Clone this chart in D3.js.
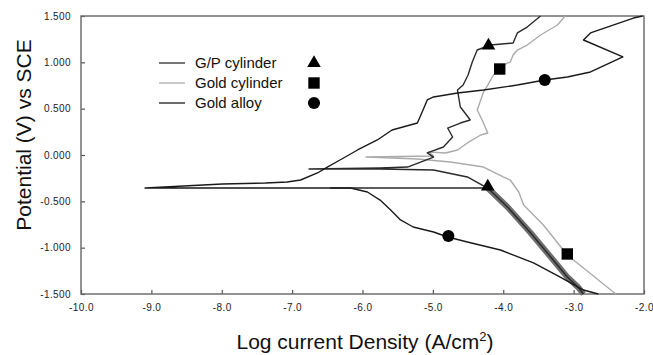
<!DOCTYPE html>
<html>
<head>
<meta charset="utf-8">
<script src="https://cdn.jsdelivr.net/npm/d3@7"></script>
<style>
  html, body { margin: 0; padding: 0; background: #fff; }
  svg { display: block; font-family: Arial, 'Liberation Sans', sans-serif; }
</style>
</head>
<body>
<div id="chart"></div>
<script>
// axis ticks
var xTicks = [-10, -9, -8, -7, -6, -5, -4, -3, -2];
var yTicks = [-1.5, -1, -0.5, 0, 0.5, 1, 1.5];

var seriesNames = ['G/P cylinder', 'Gold cylinder', 'Gold alloy'];

// G/P cylinder, cathodic branch (log i, E)
var gpCathodicCurrent   = [-6.46, -4.22, -3.94, -3.61, -3.29, -3.09, -2.94, -2.86];
var gpCathodicPotential = [-0.356, -0.356, -0.561, -0.842, -1.133, -1.317, -1.424, -1.5];

// G/P cylinder, anodic branch
var gpAnodicCurrent   = [-4.22, -4.28, -4.51, -4.99, -5.75, -6.76, -5.75, -5.36, -4.99, -5.08, -4.85, -4.72, -4.79, -4.61,
                         -4.47, -4.50, -4.61, -4.65, -4.57, -4.50, -4.44, -4.37, -4.18, -3.86, -3.80, -3.66, -3.47];
var gpAnodicPotential = [-0.356, -0.334, -0.237, -0.162, -0.151, -0.151, -0.140, -0.130, -0.022, 0.022, 0.086, 0.194, 0.291, 0.345,
                         0.378, 0.410, 0.518, 0.701, 0.755, 0.863, 1.004, 1.133, 1.187, 1.209, 1.317, 1.381, 1.5];

// Gold cylinder
var goldCylCurrent   = [-2.40, -3.09, -3.43, -3.71, -3.78, -3.90, -4.00, -4.28, -4.75, -5.22, -5.95, -4.99, -5.06, -4.82, -4.65, -4.51,
                        -4.32, -4.22, -4.30, -4.37, -4.32, -4.28, -4.22, -4.14, -4.00, -3.90, -3.86, -3.80, -3.66, -3.47, -3.23, -3.12];
var goldCylPotential = [-1.5, -1.079, -0.755, -0.539, -0.399, -0.270, -0.237, -0.130, -0.076, -0.043, -0.022, -0.011, 0.032, 0.022, 0.054, 0.130,
                        0.216, 0.237, 0.378, 0.486, 0.594, 0.680, 0.755, 0.863, 0.971, 1.004, 1.079, 1.133, 1.187, 1.295, 1.403, 1.5];

// Gold alloy
var alloyCurrent   = [-2.65, -2.86, -3.19, -3.57, -4.04, -4.51, -4.79, -4.99, -5.28, -5.46, -5.60, -5.75, -5.93, -6.17, -9.09, -7.99,
                      -7.38, -7.07, -6.88, -6.64, -6.50, -6.32, -6.07, -5.79, -5.58, -5.22, -5.14, -5.08, -4.99, -4.65, -4.28, -3.80,
                      -3.41, -3.09, -2.76, -2.30, -2.86, -2.76, -2.15, -2.02];
var alloyPotential = [-1.5, -1.457, -1.317, -1.165, -1.025, -0.939, -0.885, -0.831, -0.777, -0.701, -0.594, -0.486, -0.399, -0.356, -0.356, -0.313,
                      -0.302, -0.291, -0.270, -0.194, -0.130, -0.054, 0.054, 0.162, 0.270, 0.345, 0.486, 0.594, 0.626, 0.669, 0.701, 0.755,
                      0.809, 0.842, 0.896, 1.058, 1.241, 1.317, 1.478, 1.5];

// identifying markers placed on the curves
var markerSeries    = [0, 0, 1, 1, 2, 2];
var markerCurrent   = [-4.21, -4.22, -4.05, -3.09, -3.41, -4.78];
var markerPotential = [1.18, -0.34, 0.928, -1.068, 0.809, -0.874];

;(function (window, document, undefined) {

  'use strict';

  var width = 653, height = 355;
  var margin = { top: 16, right: 9, bottom: 61, left: 81 };

  var colors = ['#2a2a2a', '#ababab', '#1a1a1a'];
  var symbols = [d3.symbolTriangle, d3.symbolSquare, d3.symbolCircle];
  var symbolSizes = [80, 130, 115];

  var svg = d3.select('#chart').append('svg')
    .attr('width', width)
    .attr('height', height);

  var x = d3.scaleLinear().domain([-10, -2]).range([margin.left, width - margin.right]);
  var y = d3.scaleLinear().domain([-1.5, 1.5]).range([height - margin.bottom, margin.top]);

  var line = d3.line()
    .x(function (d) { return x(d[0]); })
    .y(function (d) { return y(d[1]); });

  // axes, ticks pointing inward
  var xAxis = svg.append('g')
    .attr('transform', 'translate(0,' + y(-1.5) + ')')
    .call(d3.axisBottom(x)
      .tickValues(xTicks)
      .tickSizeInner(-4)
      .tickSizeOuter(0)
      .tickPadding(10)
      .tickFormat(function (d) { return d.toFixed(1); }));

  var yAxis = svg.append('g')
    .attr('transform', 'translate(' + x(-10) + ',0)')
    .call(d3.axisLeft(y)
      .tickValues(yTicks)
      .tickSizeInner(-4)
      .tickSizeOuter(0)
      .tickPadding(10)
      .tickFormat(function (d) { return d.toFixed(3); }));

  [xAxis, yAxis].forEach(function (g) {
    g.select('.domain').remove();
    g.selectAll('.tick line').attr('stroke', '#555').attr('stroke-width', 1.2);
    g.selectAll('.tick text')
      .attr('fill', '#222')
      .style('font-size', '10px')
      .style('letter-spacing', '0.4px');
  });

  // frame
  svg.append('rect')
    .attr('x', x(-10))
    .attr('y', y(1.5))
    .attr('width', x(-2) - x(-10))
    .attr('height', y(-1.5) - y(1.5))
    .attr('fill', 'none')
    .attr('stroke', '#666')
    .attr('stroke-width', 1.4);

  var gpCathodic = d3.zip(gpCathodicCurrent, gpCathodicPotential);
  var gpAnodic = d3.zip(gpAnodicCurrent, gpAnodicPotential);
  var goldCyl = d3.zip(goldCylCurrent, goldCylPotential);
  var alloy = d3.zip(alloyCurrent, alloyPotential);

  var plot = svg.append('g').attr('fill', 'none').attr('stroke-linejoin', 'round');

  plot.append('path')
    .attr('d', line(goldCyl))
    .attr('stroke', colors[1])
    .attr('stroke-width', 1.4);

  // noisy cathodic band of the G/P cylinder
  plot.append('path')
    .attr('d', line(gpCathodic.slice(1)))
    .attr('stroke', '#6e6e6e')
    .attr('stroke-width', 6);

  plot.append('path')
    .attr('d', line(gpCathodic))
    .attr('stroke', colors[0])
    .attr('stroke-width', 1.4);

  plot.append('path')
    .attr('d', line(gpAnodic))
    .attr('stroke', colors[0])
    .attr('stroke-width', 1.4);

  plot.append('path')
    .attr('d', line(alloy))
    .attr('stroke', colors[2])
    .attr('stroke-width', 1.4);

  svg.append('g').selectAll('path')
    .data(markerSeries)
    .join('path')
    .attr('transform', function (d, i) {
      return 'translate(' + x(markerCurrent[i]) + ',' + y(markerPotential[i]) + ')';
    })
    .attr('d', function (d) { return d3.symbol(symbols[d], symbolSizes[d])(); })
    .attr('fill', '#000');

  // legend
  var legend = svg.append('g');
  var rows = legend.selectAll('g')
    .data(seriesNames)
    .join('g')
    .attr('transform', function (d, i) { return 'translate(0,' + (63 + i * 20) + ')'; });

  rows.append('line')
    .attr('x1', 159).attr('x2', 185)
    .attr('stroke', function (d, i) { return colors[i]; })
    .attr('stroke-width', 1.3);

  rows.append('text')
    .attr('x', 195)
    .attr('y', 5)
    .style('font-size', '15px')
    .attr('fill', '#111')
    .text(function (d) { return d; });

  rows.append('path')
    .attr('transform', 'translate(314,0)')
    .attr('d', function (d, i) { return d3.symbol(symbols[i], symbolSizes[i])(); })
    .attr('fill', '#000');

  // axis titles
  var xTitle = svg.append('text')
    .attr('x', 365)
    .attr('y', 349)
    .attr('text-anchor', 'middle')
    .style('font-size', '21px')
    .attr('fill', '#111');
  xTitle.append('tspan').text('Log current Density (A/cm');
  xTitle.append('tspan').attr('dy', -8).style('font-size', '13px').text('2');
  xTitle.append('tspan').attr('dy', 8).text(')');

  svg.append('text')
    .attr('transform', 'translate(31,135) rotate(-90)')
    .attr('text-anchor', 'middle')
    .style('font-size', '21px')
    .attr('fill', '#111')
    .text('Potential (V) vs SCE');

})(window, document);
</script>
</body>
</html>
